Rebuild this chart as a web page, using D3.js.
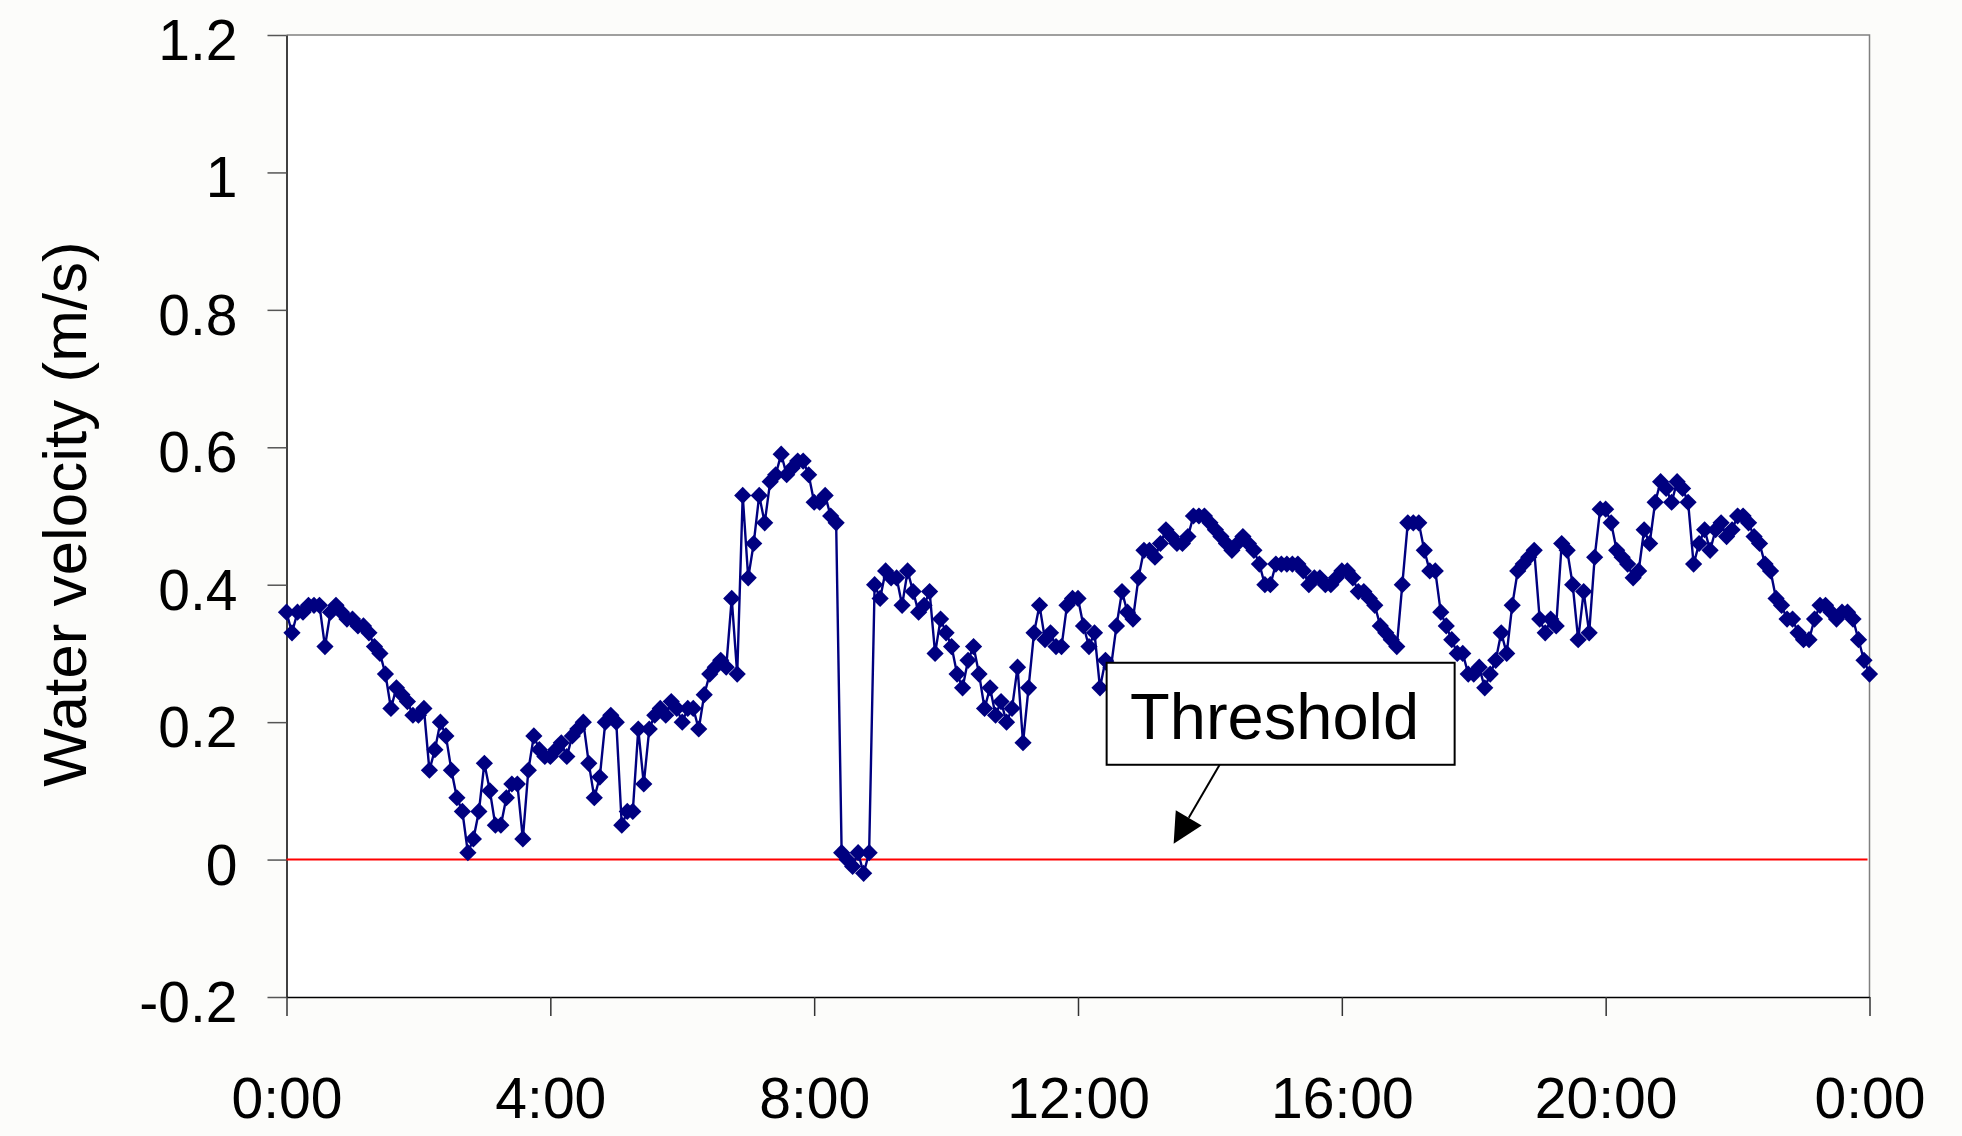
<!DOCTYPE html>
<html>
<head>
<meta charset="utf-8">
<script src="https://cdn.jsdelivr.net/npm/d3@7"></script>
<style>
  html, body { margin: 0; padding: 0; background: #fcfcfa; }
  svg { display: block; font-family: "Liberation Sans", Arial, sans-serif; }
</style>
</head>
<body>
<svg id="chart" width="1962" height="1136"></svg>
<script>
// Water velocity readings, one every 5 minutes from 0:00 to 0:00 the next day (m/s)
const stepMinutes = 5;
const velocity = [
  0.36, 0.33, 0.36, 0.36, 0.37, 0.37, 0.37, 0.31, 0.36, 0.37,
  0.36, 0.35, 0.35, 0.34, 0.34, 0.33, 0.31, 0.30, 0.27, 0.22,
  0.25, 0.24, 0.23, 0.21, 0.21, 0.22, 0.13, 0.16, 0.20, 0.18,
  0.13, 0.09, 0.07, 0.01, 0.03, 0.07, 0.14, 0.10, 0.05, 0.05,
  0.09, 0.11, 0.11, 0.03, 0.13, 0.18, 0.16, 0.15,
  0.15, 0.16, 0.17, 0.15, 0.18, 0.19, 0.20, 0.14, 0.09, 0.12,
  0.20, 0.21, 0.20, 0.05, 0.07, 0.07, 0.19, 0.11, 0.19, 0.21,
  0.22, 0.21, 0.23, 0.22, 0.20, 0.22, 0.22, 0.19, 0.24, 0.27,
  0.28, 0.29, 0.28, 0.38, 0.27, 0.53, 0.41, 0.46, 0.53, 0.49,
  0.55, 0.56, 0.59, 0.56, 0.57, 0.58, 0.58, 0.56, 0.52,
  0.52, 0.53, 0.50, 0.49, 0.01, 0.00, -0.01, 0.01, -0.02, 0.01,
  0.40, 0.38, 0.42, 0.41, 0.41, 0.37, 0.42, 0.39, 0.36, 0.37,
  0.39, 0.30, 0.35, 0.33, 0.31, 0.27, 0.25, 0.29, 0.31, 0.27,
  0.22, 0.25, 0.21, 0.23, 0.20, 0.22, 0.28, 0.17, 0.25, 0.33,
  0.37, 0.32, 0.33, 0.31, 0.31, 0.37, 0.38, 0.38, 0.34, 0.31,
  0.33, 0.25, 0.29, 0.28, 0.34, 0.39, 0.36, 0.35, 0.41, 0.45,
  0.45, 0.44, 0.46, 0.48, 0.47, 0.46, 0.46, 0.47, 0.50, 0.50,
  0.50, 0.49, 0.48, 0.47, 0.46, 0.45, 0.46, 0.47, 0.46, 0.45,
  0.43, 0.40, 0.40, 0.43, 0.43, 0.43, 0.43, 0.43, 0.42, 0.40,
  0.41, 0.41, 0.40, 0.40, 0.41, 0.42, 0.42, 0.41, 0.39,
  0.39, 0.38, 0.37, 0.34, 0.33, 0.32, 0.31, 0.40, 0.49, 0.49,
  0.49, 0.45, 0.42, 0.42, 0.36, 0.34, 0.32, 0.30, 0.30, 0.27,
  0.27, 0.28, 0.25, 0.27, 0.29, 0.33, 0.30, 0.37, 0.42, 0.43,
  0.44, 0.45, 0.35, 0.33, 0.35, 0.34, 0.46, 0.45, 0.40, 0.32,
  0.39, 0.33, 0.44, 0.51, 0.51, 0.49, 0.45, 0.44, 0.43,
  0.41, 0.42, 0.48, 0.46, 0.52, 0.55, 0.54, 0.52, 0.55, 0.54,
  0.52, 0.43, 0.46, 0.48, 0.45, 0.48, 0.49, 0.47, 0.48, 0.50,
  0.50, 0.49, 0.47, 0.46, 0.43, 0.42, 0.38, 0.37, 0.35, 0.35,
  0.33, 0.32, 0.32, 0.35, 0.37, 0.37, 0.36, 0.35, 0.36, 0.36,
  0.35, 0.32, 0.29, 0.27
];

// Axis ticks
const xTickHours  = [0, 4, 8, 12, 16, 20, 24];
const xTickLabels = ["0:00", "4:00", "8:00", "12:00", "16:00", "20:00", "0:00"];
const yTickValues = [-0.2, 0, 0.2, 0.4, 0.6, 0.8, 1, 1.2];
const yTickLabels = ["-0.2", "0", "0.2", "0.4", "0.6", "0.8", "1", "1.2"];

// Threshold level and where its callout points
const threshold = 0;
const calloutText = "Threshold";
const calloutTarget = { hour: 13.45, value: 0.023 };

const yTitle = "Water velocity (m/s)";

// Layout
const plot = { left: 286.5, right: 1869.5, top: 35, bottom: 997 };
const navy = "#000080";

const svg = d3.select("#chart");

const x = d3.scaleLinear().domain([0, 24]).range([plot.left, plot.right]);
const y = d3.scaleLinear().domain([-0.2, 1.2]).range([plot.bottom, plot.top]);

const points = velocity.map((v, i) => ({ hour: i * stepMinutes / 60, v }));

// Plot area
svg.append("rect")
  .attr("x", plot.left).attr("y", plot.top)
  .attr("width", plot.right - plot.left).attr("height", plot.bottom - plot.top)
  .attr("fill", "#ffffff");

// Top and right frame
svg.append("path")
  .attr("d", `M${plot.left},${plot.top}H${plot.right}V${plot.bottom}`)
  .attr("fill", "none").attr("stroke", "#808080").attr("stroke-width", 1.5);

// Y axis
const yAxis = svg.append("g")
  .attr("transform", `translate(${plot.left},0)`)
  .call(d3.axisLeft(y)
    .tickValues(yTickValues)
    .tickFormat((d, i) => yTickLabels[i])
    .tickSize(19).tickSizeOuter(0).tickPadding(30));
yAxis.select(".domain").attr("stroke", "#000").attr("stroke-width", 1.5);
yAxis.selectAll(".tick line").attr("stroke", "#555").attr("stroke-width", 1.5);
yAxis.selectAll(".tick text")
  .attr("font-size", 57).attr("fill", "#000")
  .attr("font-family", "'Liberation Sans', Arial, sans-serif")
  .attr("dy", "0.43em");

// X axis
const xAxis = svg.append("g")
  .attr("transform", `translate(0,${plot.bottom})`)
  .call(d3.axisBottom(x)
    .tickValues(xTickHours)
    .tickFormat((d, i) => xTickLabels[i])
    .tickSize(19).tickSizeOuter(0).tickPadding(62));
xAxis.select(".domain").attr("stroke", "#000").attr("stroke-width", 1.5);
xAxis.selectAll(".tick line").attr("stroke", "#333").attr("stroke-width", 1.5);
xAxis.selectAll(".tick text")
  .attr("font-size", 57).attr("fill", "#000")
  .attr("font-family", "'Liberation Sans', Arial, sans-serif");

// Y axis title
svg.append("text")
  .attr("transform", `translate(86,514) rotate(-90)`)
  .attr("text-anchor", "middle")
  .attr("font-size", 62)
  .attr("fill", "#000")
  .text(yTitle);

// Threshold line
svg.append("line")
  .attr("x1", x(0)).attr("x2", x(24) - 2)
  .attr("y1", y(threshold)).attr("y2", y(threshold))
  .attr("stroke", "#ff0000").attr("stroke-width", 2);

// Velocity series
const line = d3.line().x(d => x(d.hour)).y(d => y(d.v));
svg.append("path")
  .datum(points)
  .attr("d", line)
  .attr("fill", "none")
  .attr("stroke", navy)
  .attr("stroke-width", 2.4)
  .attr("stroke-linejoin", "round");

const diamond = d3.symbol(d3.symbolSquare, 148);
svg.append("g")
  .selectAll("path")
  .data(points)
  .join("path")
  .attr("d", diamond)
  .attr("transform", d => `translate(${x(d.hour)},${y(d.v)}) rotate(45)`)
  .attr("fill", navy);

// Threshold callout
const tipX = x(calloutTarget.hour), tipY = y(calloutTarget.value);
const box = { x: tipX - 67, y: tipY - 181, w: 348, h: 102 };
const tailX = tipX + 46, tailY = box.y + box.h;

const ang = Math.atan2(tipY - tailY, tipX - tailX);
const headLen = 30, headHalf = 15;
const bx = tipX - headLen * Math.cos(ang), by = tipY - headLen * Math.sin(ang);
const px = -Math.sin(ang), py = Math.cos(ang);

svg.append("line")
  .attr("x1", tailX).attr("y1", tailY)
  .attr("x2", bx).attr("y2", by)
  .attr("stroke", "#000").attr("stroke-width", 2);
svg.append("path")
  .attr("d", `M${tipX},${tipY}L${bx + px * headHalf},${by + py * headHalf}L${bx - px * headHalf},${by - py * headHalf}Z`)
  .attr("fill", "#000");

svg.append("rect")
  .attr("x", box.x).attr("y", box.y)
  .attr("width", box.w).attr("height", box.h)
  .attr("fill", "#fff").attr("stroke", "#000").attr("stroke-width", 2);
svg.append("text")
  .attr("x", box.x + box.w / 2 - 6).attr("y", box.y + 76)
  .attr("text-anchor", "middle")
  .attr("font-size", 65)
  .attr("fill", "#000")
  .text(calloutText);
</script>
</body>
</html>
